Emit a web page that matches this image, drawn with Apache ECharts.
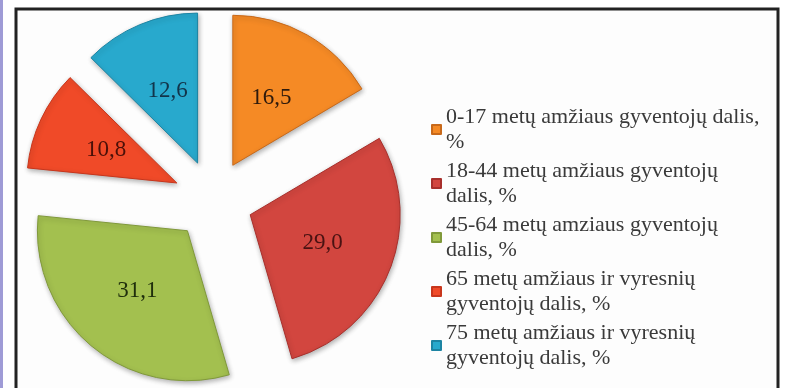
<!DOCTYPE html>
<html>
<head>
<meta charset="utf-8">
<script src="https://cdn.jsdelivr.net/npm/echarts@6/dist/echarts.min.js"></script>
<style>
html,body{margin:0;padding:0;background:#fff;}
#chart{width:791px;height:388px;}
</style>
</head>
<body>
<div id="chart"></div>
<script>
// Data
var categories = [
  '0-17 metų amžiaus gyventojų dalis, %',
  '18-44 metų amžiaus gyventojų dalis, %',
  '45-64 metų amziaus gyventojų dalis, %',
  '65 metų amžiaus ir vyresnių gyventojų dalis, %',
  '75 metų amžiaus ir vyresnių gyventojų dalis, %'
];
var legendLines = [
  '0-17 metų amžiaus gyventojų dalis,\n%',
  '18-44 metų amžiaus gyventojų\ndalis, %',
  '45-64 metų amziaus gyventojų\ndalis, %',
  '65 metų amžiaus ir vyresnių\ngyventojų dalis, %',
  '75 metų amžiaus ir vyresnių\ngyventojų dalis, %'
];
var values = [16.5, 29.0, 31.1, 10.8, 12.6];

// Styles
var sliceColors = ['#F58A25', '#D2463F', '#A3C04F', '#F04A28', '#28A9CD'];
var borderColors = ['#C8691A', '#A8302C', '#80993A', '#C8361C', '#1D84A3'];
var labelColors = ['#2E1A0C', '#4A1212', '#1F2E0C', '#4A1008', '#12344A'];

var chart = echarts.init(document.getElementById('chart'));
var seriesData = categories.map(function (name, i) {
  return {
    name: name,
    value: values[i],
    selected: true,
    itemStyle: { color: sliceColors[i], borderColor: borderColors[i] },
    label: { color: labelColors[i] }
  };
});

chart.setOption({
  animation: false,
  backgroundColor: '#ffffff',
  graphic: [
    { type: 'rect', shape: { x: 0, y: 0, width: 3, height: 388 }, style: { fill: '#9F9BD6' }, z: -1 },
    { type: 'rect', shape: { x: 16, y: 9, width: 762, height: 400 }, style: { fill: '#FDFDFD', stroke: '#222222', lineWidth: 3 }, z: -1 }
  ],
  legend: {
    orient: 'vertical',
    left: 426,
    top: 87,
    height: 320,
    itemWidth: 9,
    itemHeight: 9,
    itemGap: -21,
    icon: 'rect',
    selectedMode: false,
    data: categories,
    formatter: function (name) { return legendLines[categories.indexOf(name)]; },
    textStyle: {
      fontFamily: '"Liberation Serif", "Times New Roman", serif',
      fontSize: 22,
      lineHeight: 25,
      color: '#3a3a3a',
      padding: [25, 0, 0, 0]
    }
  },
  series: [{
    type: 'pie',
    center: [213, 200],
    radius: [0, 150],
    startAngle: 90,
    clockwise: true,
    selectedMode: 'multiple',
    selectedOffset: 40,
    avoidLabelOverlap: false,
    emphasis: { disabled: true },
    select: { disabled: false },
    itemStyle: {
      borderWidth: 1,
      shadowBlur: 5,
      shadowColor: 'rgba(0,0,0,0.3)',
      shadowOffsetX: 1,
      shadowOffsetY: 2
    },
    label: {
      show: true,
      position: 'inside',
      fontFamily: '"Liberation Serif", "Times New Roman", serif',
      fontSize: 23,
      formatter: function (p) { return p.value.toFixed(1).replace('.', ','); }
    },
    labelLine: { show: false },
    data: seriesData
  }]
});
</script>
</body>
</html>
